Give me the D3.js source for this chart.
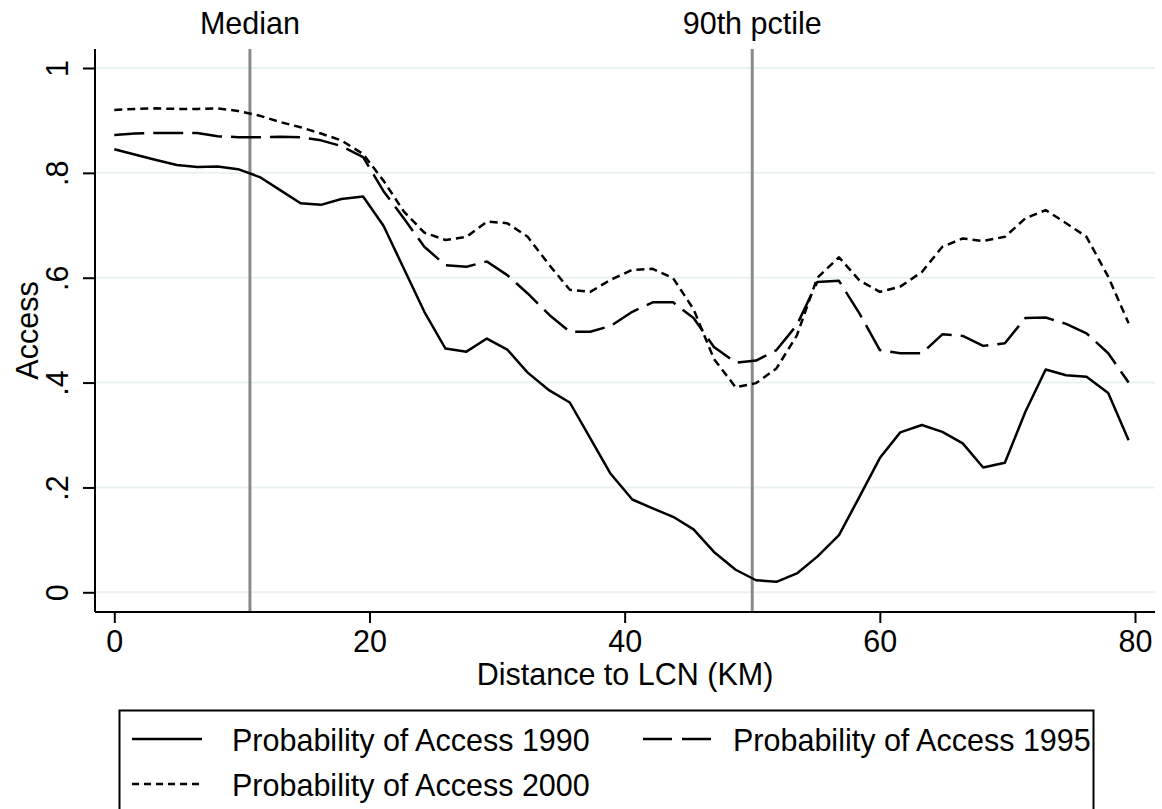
<!DOCTYPE html>
<html>
<head>
<meta charset="utf-8">
<script src="https://cdn.jsdelivr.net/npm/d3@7"></script>
<style>
  html, body { margin: 0; padding: 0; background: #fff; }
  svg { display: block; }
  text { font-family: "Liberation Sans", Arial, Helvetica, sans-serif; fill: #000; }
</style>
</head>
<body>
<svg id="chart" width="1162" height="809"></svg>
<script>
// ---- data ----
const distance = [0.0, 1.6, 3.2, 4.9, 6.5, 8.1, 9.7, 11.4, 13.0, 14.6,
  16.2, 17.8, 19.5, 21.1, 22.7, 24.3, 25.95, 27.6, 29.2, 30.8,
  32.4, 34.1, 35.7, 37.3, 38.9, 40.6, 42.2, 43.8, 45.4, 47.0,
  48.7, 50.3, 51.9, 53.5, 55.1, 56.8, 58.4, 60.0, 61.6, 63.3,
  64.9, 66.5, 68.1, 69.8, 71.4, 73.0, 74.6, 76.2, 77.9, 79.5];
const access1990 = [0.845, 0.835, 0.825, 0.815, 0.811, 0.812, 0.807, 0.792, 0.767, 0.742,
  0.739, 0.750, 0.755, 0.699, 0.617, 0.535, 0.465, 0.459, 0.484, 0.463,
  0.419, 0.385, 0.362, 0.294, 0.226, 0.177, 0.160, 0.144, 0.120, 0.077,
  0.043, 0.023, 0.020, 0.036, 0.068, 0.109, 0.182, 0.256, 0.305, 0.319,
  0.306, 0.284, 0.238, 0.247, 0.344, 0.425, 0.414, 0.411, 0.380, 0.290];
const access1995 = [0.872, 0.875, 0.876, 0.876, 0.876, 0.870, 0.868, 0.868, 0.869, 0.868,
  0.862, 0.851, 0.830, 0.765, 0.713, 0.659, 0.624, 0.621, 0.631, 0.605,
  0.570, 0.529, 0.497, 0.497, 0.508, 0.535, 0.553, 0.553, 0.523, 0.468,
  0.438, 0.442, 0.462, 0.510, 0.592, 0.594, 0.532, 0.462, 0.456, 0.456,
  0.492, 0.489, 0.470, 0.475, 0.523, 0.524, 0.512, 0.494, 0.456, 0.400];
const access2000 = [0.920, 0.922, 0.923, 0.922, 0.922, 0.923, 0.918, 0.909, 0.897, 0.887,
  0.875, 0.862, 0.836, 0.785, 0.726, 0.686, 0.672, 0.678, 0.707, 0.704,
  0.678, 0.624, 0.577, 0.573, 0.596, 0.615, 0.617, 0.599, 0.540, 0.445,
  0.391, 0.399, 0.427, 0.490, 0.600, 0.639, 0.595, 0.573, 0.583, 0.611,
  0.659, 0.675, 0.670, 0.678, 0.713, 0.729, 0.704, 0.678, 0.602, 0.513];
const seriesNames = ["Probability of Access 1990", "Probability of Access 1995", "Probability of Access 2000"];
const xTicks = [0, 20, 40, 60, 80];
const yTicks = [0, 0.2, 0.4, 0.6, 0.8, 1];
const yTickLabels = ["0", ".2", ".4", ".6", ".8", "1"];
const refLines = [10.63, 50.0];
const refLabels = ["Median", "90th pctile"];
const xTitle = "Distance to LCN (KM)";
const yTitle = "Access";

// ---- layout ----
const FS = 30.5;
const svg = d3.select("#chart");
const x = d3.scaleLinear().domain([0, 80]).range([114.3, 1135]);
const y = d3.scaleLinear().domain([0, 1]).range([592.3, 68]);
const plotLeft = 95, plotRight = 1155, plotTop = 49, plotBottom = 612;

// gridlines
svg.append("g").selectAll("line").data(yTicks).join("line")
  .attr("x1", plotLeft).attr("x2", plotRight)
  .attr("y1", d => y(d)).attr("y2", d => y(d))
  .attr("stroke", "#eaf1f3").attr("stroke-width", 2);

// reference lines
svg.append("g").selectAll("line").data(refLines).join("line")
  .attr("x1", d => x(d)).attr("x2", d => x(d))
  .attr("y1", plotTop).attr("y2", plotBottom)
  .attr("stroke", "#8a8a8a").attr("stroke-width", 3);
svg.append("g").selectAll("text").data(refLines).join("text")
  .attr("x", d => x(d)).attr("y", 34)
  .attr("text-anchor", "middle").attr("font-size", FS)
  .text((d, i) => refLabels[i]);

// series
const styles = [
  { data: access1990, dash: null },
  { data: access1995, dash: "30,9" },
  { data: access2000, dash: "8,5" }
];
const line = d3.line().x(d => x(d[0])).y(d => y(d[1]));
styles.forEach(s => {
  svg.append("path")
    .datum(distance.map((d, i) => [d, s.data[i]]))
    .attr("d", line)
    .attr("fill", "none").attr("stroke", "#000")
    .attr("stroke-width", 2.5)
    .attr("stroke-linejoin", "round")
    .attr("stroke-dasharray", s.dash);
});

// axes
const xAxis = d3.axisBottom(x).tickValues(xTicks).tickSize(11).tickPadding(6).tickFormat(d3.format("d"));
const gx = svg.append("g").attr("transform", `translate(0,${plotBottom})`).call(xAxis);
gx.select(".domain").remove();
gx.selectAll(".tick line").attr("stroke", "#000").attr("stroke-width", 2);
gx.selectAll(".tick text").attr("font-size", FS).attr("font-family", "Liberation Sans, Arial, sans-serif").attr("dy", "0.75em").attr("fill", "#000");
svg.append("line").attr("x1", plotLeft).attr("x2", plotRight).attr("y1", plotBottom).attr("y2", plotBottom)
  .attr("stroke", "#000").attr("stroke-width", 2);

const yAxis = d3.axisLeft(y).tickValues(yTicks).tickSize(12).tickFormat((d, i) => yTickLabels[i]);
const gy = svg.append("g").attr("transform", `translate(${plotLeft},0)`).call(yAxis);
gy.select(".domain").remove();
gy.selectAll(".tick line").attr("stroke", "#000").attr("stroke-width", 2);
gy.selectAll(".tick text")
  .attr("font-size", FS).attr("font-family", "Liberation Sans, Arial, sans-serif").attr("fill", "#000")
  .attr("x", null).attr("dy", null)
  .attr("text-anchor", "middle")
  .attr("transform", "translate(-27,0) rotate(-90)");
svg.append("line").attr("x1", plotLeft).attr("x2", plotLeft).attr("y1", plotTop).attr("y2", plotBottom)
  .attr("stroke", "#000").attr("stroke-width", 2);

// titles
svg.append("text").attr("x", (plotLeft + plotRight) / 2).attr("y", 685)
  .attr("text-anchor", "middle").attr("font-size", FS).text(xTitle);
svg.append("text").attr("transform", `translate(38,${(plotTop + plotBottom) / 2}) rotate(-90)`)
  .attr("text-anchor", "middle").attr("font-size", FS).text(yTitle);

// legend
svg.append("rect").attr("x", 119.5).attr("y", 710.5).attr("width", 974).attr("height", 120)
  .attr("fill", "#fff").attr("stroke", "#000").attr("stroke-width", 2);
const legendPos = [
  { lx: 132, ly: 739, tx: 232, ty: 751 },
  { lx: 643, ly: 739, tx: 733, ty: 751 },
  { lx: 132, ly: 784, tx: 232, ty: 796 }
];
const legendDash = [null, "29,10", "7,5"];
legendPos.forEach((p, i) => {
  svg.append("line").attr("x1", p.lx).attr("x2", p.lx + 70).attr("y1", p.ly).attr("y2", p.ly)
    .attr("stroke", "#000").attr("stroke-width", 2.5).attr("stroke-dasharray", legendDash[i]);
  svg.append("text").attr("x", p.tx).attr("y", p.ty).attr("font-size", FS).text(seriesNames[i]);
});
</script>
</body>
</html>
